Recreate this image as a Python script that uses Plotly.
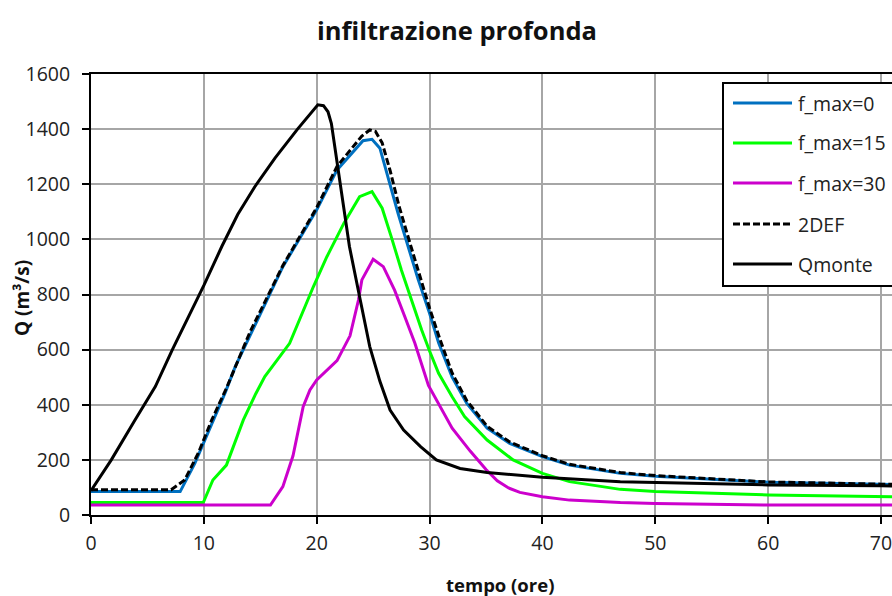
import plotly.graph_objects as go

# ---------------- data ----------------
t_fmax0 = [0, 7.9, 9.2, 10.1, 11.9, 12.8, 14.1, 17.0, 20.0, 21.8, 24.1, 24.9, 25.6, 26.3, 27.2,
           28.1, 29.0, 30.0, 30.8, 32.0, 33.3, 35.1, 37.1, 40, 42.4, 46.9, 50, 60, 70, 72]
q_fmax0 = [85, 85, 187, 272, 445, 540, 652, 901, 1107, 1252, 1358, 1363, 1331, 1228, 1095,
           974, 853, 732, 625, 500, 405, 315, 260, 212, 181, 151, 141, 119, 111, 110]

t_fmax15 = [0, 9.95, 10.8, 12.0, 13.5, 14.6, 15.4, 17.6, 19.7, 20.9, 22.4, 23.8, 24.9, 25.8,
            26.6, 27.5, 28.4, 29.3, 30.0, 30.8, 32.0, 33.1, 35.1, 37.4, 40, 42.4, 46.9, 50, 60, 70, 72]
q_fmax15 = [45, 45, 127, 181, 345, 440, 502, 623, 828, 937, 1058, 1155, 1173, 1113,
            1010, 889, 780, 671, 595, 514, 429, 357, 272, 200, 151, 121, 93, 85, 73, 66, 66]

t_fmax30 = [0, 15.9, 17.0, 17.9, 18.8, 19.4, 20.0, 21.0, 21.8, 22.95, 23.7, 24.0, 25.0, 25.9,
            26.9, 27.8, 28.7, 29.9, 31.1, 32.0, 33.6, 35.0, 36.0, 37.0, 38.0, 40, 42.4, 46.9, 50, 57, 60, 70, 72]
q_fmax30 = [36, 36, 103, 215, 393, 454, 490, 530, 560, 650, 780, 853, 928, 901,
            816, 720, 623, 470, 381, 315, 232, 165, 124, 98, 82, 66, 54, 45, 42, 37, 36, 36, 36]

t_2def = [0, 7.1, 8.3, 9.5, 10.7, 12.0, 14.1, 17.0, 20.0, 21.8, 24.0, 24.7, 25.2, 25.8, 26.5,
          27.3, 28.2, 29.1, 30.0, 30.9, 32.0, 33.3, 35.1, 37.1, 40, 42.4, 46.9, 50, 60, 70, 72]
q_2def = [92, 92, 127, 224, 345, 460, 665, 905, 1115, 1265, 1375, 1397, 1392, 1350, 1250,
          1120, 995, 870, 750, 640, 515, 415, 322, 265, 215, 184, 154, 143, 120, 112, 111]

t_qmonte = [0, 1.8, 3.9, 5.7, 7.2, 10.0, 11.6, 13.0, 14.5, 16.3, 18.3, 19.5, 20.1, 20.6, 21.0, 21.3,
            21.6, 22.2, 22.9, 23.8, 24.7, 25.6, 26.5, 27.7, 29.2, 30.6, 32.7, 35.1, 40, 46.9, 50, 60, 70, 72]
q_qmonte = [88, 200, 345, 466, 599, 833, 975, 1090, 1190, 1295, 1400, 1460, 1488, 1485, 1463, 1420,
            1336, 1155, 974, 792, 611, 485, 381, 308, 248, 200, 169, 154, 137, 121, 118, 109, 106, 105]

series_names = ["f_max=0", "f_max=15", "f_max=30", "2DEF", "Qmonte"]
series_colors = ["#0070C0", "#00FF00", "#CC00CC", "#000000", "#000000"]
series_dash = ["solid", "solid", "solid", "7px,3px", "solid"]

x_ticks = [0, 10, 20, 30, 40, 50, 60, 70]
y_ticks = [0, 200, 400, 600, 800, 1000, 1200, 1400, 1600]

title_text = "infiltrazione profonda"
x_title = "tempo (ore)"
y_title = "Q (m³/s)"

# ---------------- layout geometry ----------------
W, H = 892, 596
L, T, B, R = 91, 74, 81, 0
PW, PH = W - L - R, H - T - B
FONT = "'Open Sans', sans-serif"


def px_x(px):
    return (px - L) / PW


def px_y(py):
    return (T + PH - py) / PH


fig = go.Figure()
data = [(t_fmax0, q_fmax0), (t_fmax15, q_fmax15), (t_fmax30, q_fmax30),
        (t_2def, q_2def), (t_qmonte, q_qmonte)]
for (tx, qy), name, col, dsh in zip(data, series_names, series_colors, series_dash):
    fig.add_trace(go.Scatter(x=tx, y=qy, mode="lines", name=name,
                             line=dict(color=col, width=3, dash=dsh),
                             showlegend=False))

x_max = 70 * PW / (881 - L)

fig.update_layout(
    width=W, height=H,
    margin=dict(l=L, r=R, t=T, b=B),
    paper_bgcolor="white", plot_bgcolor="white",
    font=dict(family=FONT, size=19.5, color="#222"),
    xaxis=dict(range=[0, x_max], tickvals=x_ticks, showgrid=True,
               gridcolor="#A6A6A6", gridwidth=2, zeroline=False,
               showline=True, linecolor="black", linewidth=2, mirror=True,
               ticks="outside", ticklen=7, tickwidth=2, tickcolor="black",
               ticklabelstandoff=3, ticklabeloverflow="allow",
               tickfont=dict(size=19.5, color="#222")),
    yaxis=dict(range=[0, 1600], tickvals=y_ticks, showgrid=True,
               gridcolor="#A6A6A6", gridwidth=2, zeroline=False,
               showline=True, linecolor="black", linewidth=2,
               ticks="outside", ticklen=7, tickwidth=2, tickcolor="black",
               ticklabelstandoff=8, tickfont=dict(size=19.5, color="#222")),
)

annotations = [
    dict(text="<b>%s</b>" % title_text, x=px_x(457), y=px_y(30), xref="paper", yref="paper",
         showarrow=False, xanchor="center", yanchor="middle",
         font=dict(family=FONT, size=25.5, color="#111")),
    dict(text="<b>%s</b>" % x_title, x=px_x(500), y=px_y(584), xref="paper", yref="paper",
         showarrow=False, xanchor="center", yanchor="middle",
         font=dict(family=FONT, size=18.5, color="#111")),
    dict(text="<b>%s</b>" % y_title, x=px_x(22), y=px_y(298), xref="paper", yref="paper",
         showarrow=False, xanchor="center", yanchor="middle", textangle=-90,
         font=dict(family=FONT, size=19, color="#111")),
]

# manual legend (box runs past the right edge as in the reference)
shapes = [dict(type="rect", xref="paper", yref="paper",
               x0=px_x(723), x1=px_x(960), y0=px_y(286), y1=px_y(83),
               line=dict(color="black", width=2), fillcolor="white", layer="above")]
rows = [103, 143, 183, 224, 264]
for name, col, dsh, ry in zip(series_names, series_colors, series_dash, rows):
    shapes.append(dict(type="line", xref="paper", yref="paper",
                       x0=px_x(733), x1=px_x(792), y0=px_y(ry), y1=px_y(ry),
                       line=dict(color=col, width=3, dash=dsh), layer="above"))
    annotations.append(dict(text=name, x=px_x(796), y=px_y(ry), xref="paper", yref="paper",
                            showarrow=False, xanchor="left", yanchor="middle",
                            font=dict(family=FONT, size=19.5, color="#222")))

fig.update_layout(annotations=annotations, shapes=shapes)
fig.write_html("out.html")
